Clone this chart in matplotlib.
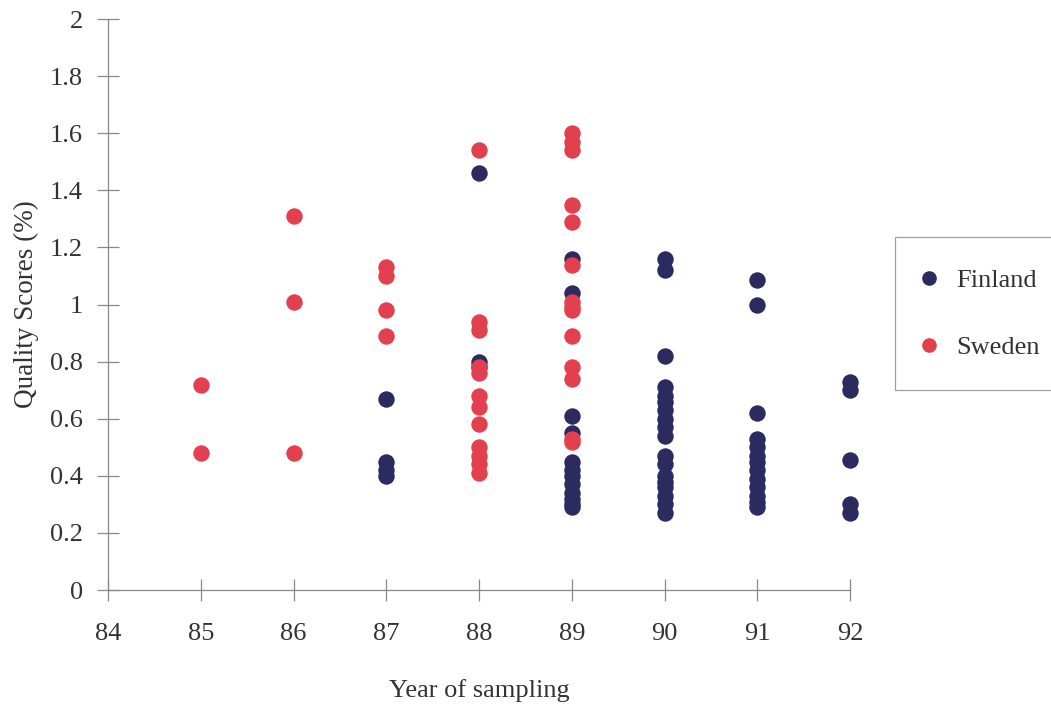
import matplotlib
matplotlib.use("Agg")
import matplotlib.pyplot as plt
from matplotlib.lines import Line2D

plt.rcParams['font.family'] = ['Liberation Serif', 'DejaVu Serif']

# Data
sweden_years = [85, 85,
                86, 86, 86,
                87, 87, 87, 87,
                88, 88, 88, 88, 88, 88, 88, 88, 88, 88, 88, 88,
                89, 89, 89, 89, 89, 89, 89, 89, 89, 89, 89, 89, 89, 89]
sweden_scores = [0.72, 0.48,
                 1.31, 1.01, 0.48,
                 1.13, 1.10, 0.98, 0.89,
                 1.54, 0.94, 0.91, 0.78, 0.76, 0.68, 0.64, 0.58, 0.50, 0.47, 0.44, 0.41,
                 1.60, 1.57, 1.54, 1.35, 1.29, 1.14, 1.01, 0.98, 0.89, 0.78, 0.74, 0.53, 0.52, 0.99]

finland_years = [87, 87, 87, 87,
                 88, 88, 88,
                 89, 89, 89, 89, 89, 89, 89, 89, 89, 89, 89, 89,
                 90, 90, 90, 90, 90, 90, 90, 90, 90, 90, 90, 90, 90, 90, 90, 90, 90, 90,
                 91, 91, 91, 91, 91, 91, 91, 91, 91, 91, 91, 91, 91,
                 92, 92, 92, 92, 92]
finland_scores = [0.67, 0.45, 0.42, 0.40,
                  1.46, 0.80, 0.78,
                  1.16, 1.04, 0.61, 0.55, 0.45, 0.42, 0.40, 0.37, 0.34, 0.32, 0.30, 0.29,
                  1.16, 1.12, 0.82, 0.71, 0.68, 0.66, 0.63, 0.60, 0.57, 0.54, 0.47, 0.44, 0.40, 0.38, 0.36, 0.33, 0.30, 0.27,
                  1.085, 1.00, 0.62, 0.53, 0.50, 0.47, 0.45, 0.42, 0.39, 0.36, 0.33, 0.31, 0.29,
                  0.73, 0.70, 0.455, 0.30, 0.27]

x_ticks = [84, 85, 86, 87, 88, 89, 90, 91, 92]
y_ticks = [0, 0.2, 0.4, 0.6, 0.8, 1.0, 1.2, 1.4, 1.6, 1.8, 2.0]
y_labels = ['0', '0.2', '0.4', '0.6', '0.8', '1', '1.2', '1.4', '1.6', '1.8', '2']

finland_color = '#2c2b60'
sweden_color = '#e2404f'

fig = plt.figure(figsize=(10.51, 7.05), dpi=100)
ax = fig.add_axes([0.1028, 0.163, 0.706, 0.810])

ax.scatter(finland_years, finland_scores, s=140, color=finland_color, zorder=2,
           linewidths=0, clip_on=False)
ax.scatter(sweden_years, sweden_scores, s=140, color=sweden_color, zorder=3,
           linewidths=0, clip_on=False)

ax.set_xlim(84, 92)
ax.set_ylim(0, 2)
ax.set_xticks(x_ticks)
ax.set_yticks(y_ticks)
ax.set_yticklabels(y_labels)

for s in ['top', 'right']:
    ax.spines[s].set_visible(False)
for s in ['left', 'bottom']:
    ax.spines[s].set_color('#888888')
    ax.spines[s].set_linewidth(0.9)

ax.tick_params(axis='both', direction='inout', length=16, width=0.9, color='#888888',
               labelsize=19, labelcolor='#333333')
ax.tick_params(axis='x', pad=16)
ax.tick_params(axis='y', pad=10)

ax.set_xlabel('Year of sampling', fontsize=19, color='#333333', labelpad=24)
ax.set_ylabel('Quality Scores (%)', fontsize=19.5, color='#333333', labelpad=8)

handles = [Line2D([], [], marker='o', linestyle='', markersize=9.5, color=finland_color),
           Line2D([], [], marker='o', linestyle='', markersize=9.5, color=sweden_color)]
leg = fig.legend(handles, ['Finland', 'Sweden'], loc='upper left',
                 bbox_to_anchor=(0.852, 0.664), frameon=True, fancybox=False,
                 fontsize=19, labelspacing=1.66, borderpad=1.19, handletextpad=0.95,
                 handlelength=0.15, borderaxespad=0)
leg.get_frame().set_edgecolor('#888888')
leg.get_frame().set_linewidth(0.9)
for t in leg.get_texts():
    t.set_color('#333333')

fig.savefig('out.png', dpi=100)
